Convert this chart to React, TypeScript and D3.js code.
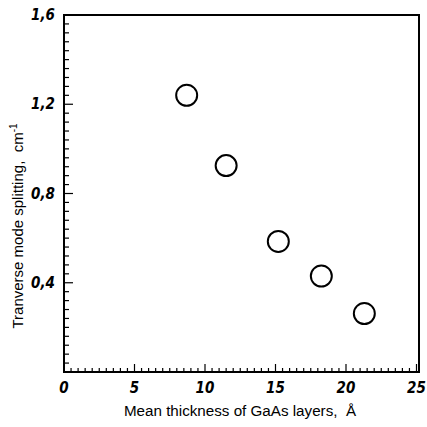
import React from "react";
import * as d3 from "d3";

const thickness = [8.7, 11.5, 15.2, 18.25, 21.3];
const splitting = [1.24, 0.925, 0.585, 0.43, 0.262];
const xTickValues = [0, 5, 10, 15, 20, 25];
const xTickLabels = ["0", "5", "10", "15", "20", "25"];
const yTickValues = [0.4, 0.8, 1.2, 1.6];
const yTickLabels = ["0,4", "0,8", "1,2", "1,6"];

const W = 427;
const H = 427;
const L = 64, R = 419, T = 15, B = 372;

export default function App() {
  const x = d3.scaleLinear().domain([0, 25]).range([L, L + 352.5]);
  const y = d3.scaleLinear().domain([0, 1.6]).range([B, T]);
  const xMinor = d3.range(0, 25.01, 0.5);
  const yMinor = d3.range(0, 1.601, 0.04);
  const tickFont = "'Liberation Sans Narrow', 'DejaVu Sans Condensed', sans-serif";
  return (
    <svg width={W} height={H} style={{ position: "absolute", left: 0, top: 0, background: "#fff" }}>
      <rect x={0} y={0} width={W} height={H} fill="#fff" />
      <rect x={L} y={T} width={R - L} height={B - T} fill="none" stroke="#000" strokeWidth={2} />
      {xMinor.map((v, i) => {
        const major = Math.abs(v % 5) < 1e-6 || Math.abs((v % 5) - 5) < 1e-6;
        return (
          <line key={"xm" + i} x1={x(v)} x2={x(v)} y1={B} y2={B - (major ? 8 : 4)} stroke="#000" strokeWidth={1.2} />
        );
      })}
      {yMinor.map((v, i) => {
        const major = Math.abs(Math.round(v / 0.4) * 0.4 - v) < 1e-6;
        return (
          <line key={"ym" + i} x1={L} x2={L + (major ? 9 : 5)} y1={y(v)} y2={y(v)} stroke="#000" strokeWidth={1.2} />
        );
      })}
      {xTickValues.map((v, i) => (
        <text key={"xl" + i} x={x(v)} y={393} textAnchor="middle" fontFamily={tickFont} fontStyle="italic" fontWeight="bold" fontSize={15}>
          {xTickLabels[i]}
        </text>
      ))}
      {yTickValues.map((v, i) => (
        <text key={"yl" + i} x={55} y={y(v) + 5} textAnchor="end" fontFamily={tickFont} fontStyle="italic" fontWeight="bold" fontSize={15}>
          {yTickLabels[i]}
        </text>
      ))}
      {thickness.map((t, i) => (
        <circle key={"c" + i} cx={x(t)} cy={y(splitting[i])} r={10.5} fill="#fff" stroke="#000" strokeWidth={2} />
      ))}
      <text x={240} y={416} textAnchor="middle" fontFamily="'Liberation Sans', Arial, sans-serif" fontSize={15.2}>
        Mean thickness of GaAs layers,{"\u00a0\u00a0"}Å
      </text>
      <text transform={`translate(23,226) rotate(-90)`} textAnchor="middle" fontFamily="'Liberation Sans', Arial, sans-serif" fontSize={15}>
        Tranverse mode splitting,{"\u00a0\u00a0"}cm
        <tspan dy={-6} fontSize={10}>-1</tspan>
      </text>
    </svg>
  );
}
